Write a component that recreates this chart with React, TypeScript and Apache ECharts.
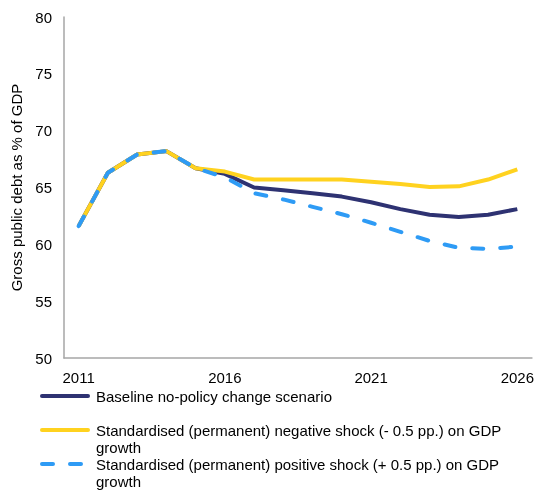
import React, { useEffect, useRef } from "react";
import * as echarts from "echarts";

const years = ["2011","2012","2013","2014","2015","2016","2017","2018","2019","2020","2021","2022","2023","2024","2025","2026"];
const baseline = [61.6, 66.3, 67.9, 68.2, 66.7, 66.2, 65.0, 64.75, 64.5, 64.2, 63.7, 63.1, 62.6, 62.4, 62.6, 63.1];
const negativeShock = [61.6, 66.3, 67.9, 68.2, 66.7, 66.4, 65.7, 65.7, 65.7, 65.7, 65.5, 65.3, 65.05, 65.1, 65.7, 66.6];
const positiveShock = [61.6, 66.3, 67.9, 68.2, 66.7, 65.9, 64.5, 63.95, 63.3, 62.65, 61.9, 61.1, 60.3, 59.7, 59.6, 59.8];
const seriesNames = [
  "Baseline no-policy change scenario",
  "Standardised (permanent) negative shock (- 0.5 pp.) on GDP\ngrowth",
  "Standardised (permanent) positive shock (+ 0.5 pp.) on GDP\ngrowth",
];
const colors = ["#2E3272", "#FFD21F", "#2E9BF5"];

export default function App() {
  const ref = useRef<HTMLDivElement>(null);
  useEffect(() => {
    if (!ref.current) return;
    const chart = echarts.init(ref.current, null, { renderer: "svg" });
    const font = "Arial, 'Liberation Sans', sans-serif";
    const legendRows = [396, 430, 464];
    const graphic: any[] = [];
    seriesNames.forEach((n, i) => {
      graphic.push({
        type: "line",
        shape: { x1: 42, y1: legendRows[i], x2: 88, y2: legendRows[i] },
        style: {
          stroke: colors[i],
          lineWidth: 4,
          lineCap: "round",
          lineDash: i === 2 ? [11, 17] : null,
        },
      });
      graphic.push({
        type: "text",
        x: 96,
        y: legendRows[i] - 8.5,
        style: {
          text: n,
          fill: "#000",
          font: `15px ${font}`,
          lineHeight: 17,
          textVerticalAlign: "top",
        },
      });
    });
    chart.setOption({
      animation: false,
      textStyle: { fontFamily: font },
      grid: { left: 64, right: 5, top: 17, bottom: 132, containLabel: false },
      xAxis: {
        type: "category",
        data: years,
        boundaryGap: true,
        axisLine: { lineStyle: { color: "#A6A6A6", width: 1.5 } },
        axisTick: { show: false },
        axisLabel: { interval: 4, color: "#000", fontSize: 15, margin: 12, fontFamily: font },
      },
      yAxis: {
        type: "value",
        min: 50,
        max: 80,
        interval: 5,
        name: "Gross public debt as % of GDP",
        nameLocation: "middle",
        nameGap: 39,
        nameTextStyle: { color: "#000", fontSize: 15, fontFamily: font },
        axisLine: { show: true, lineStyle: { color: "#A6A6A6", width: 1.5 } },
        axisTick: { show: false },
        splitLine: { show: false },
        axisLabel: { color: "#000", fontSize: 15, margin: 12, fontFamily: font },
      },
      series: [
        {
          name: seriesNames[0],
          type: "line",
          data: baseline,
          symbol: "none",
          lineStyle: { color: colors[0], width: 4 },
          z: 2,
        },
        {
          name: seriesNames[1],
          type: "line",
          data: negativeShock,
          symbol: "none",
          lineStyle: { color: colors[1], width: 4 },
          z: 3,
        },
        {
          name: seriesNames[2],
          type: "line",
          data: positiveShock,
          symbol: "none",
          lineStyle: { color: colors[2], width: 4, type: [11, 17], cap: "round" },
          z: 4,
        },
      ],
      graphic,
    });
    return () => chart.dispose();
  }, []);
  return <div ref={ref} style={{ position: "fixed", left: 0, top: 0, width: 537, height: 490 }} />;
}
